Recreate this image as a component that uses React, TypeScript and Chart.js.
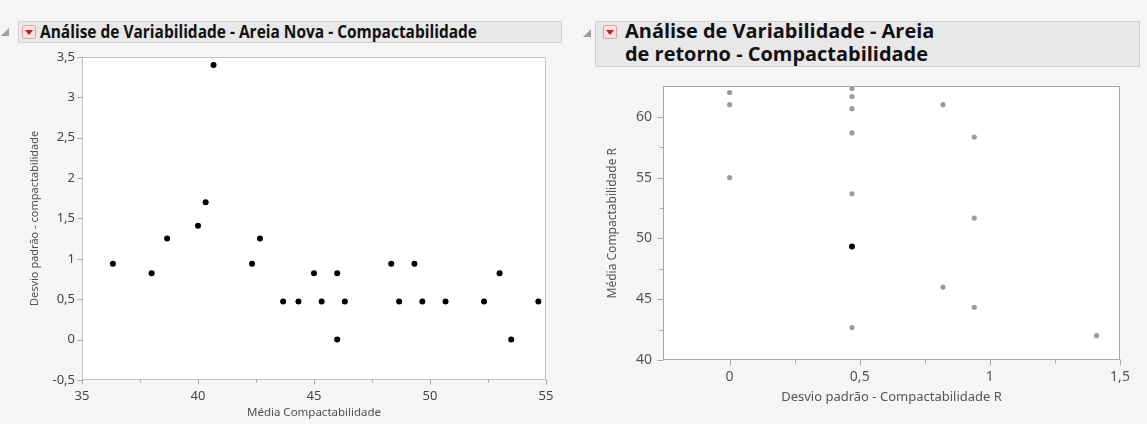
import React, { useEffect, useRef } from 'react';
import { Chart, registerables } from 'chart.js';

Chart.register(...registerables);

// ---------- Data: Areia Nova ----------
const novaMedia = [36.33, 38, 38.67, 40, 40.33, 40.67, 42.33, 42.67, 43.67, 44.33, 45, 45.33, 46, 46, 46.33, 48.33, 48.67, 49.33, 49.67, 50.67, 52.33, 53, 53.5, 54.67];
const novaDesvio = [0.94, 0.82, 1.25, 1.41, 1.7, 3.4, 0.94, 1.25, 0.47, 0.47, 0.82, 0.47, 0.82, 0, 0.47, 0.94, 0.47, 0.94, 0.47, 0.47, 0.47, 0.82, 0, 0.47];
const novaXTicks = [35, 40, 45, 50, 55];
const novaXMinor = [37.5, 42.5, 47.5, 52.5];
const novaYTicks = [-0.5, 0, 0.5, 1, 1.5, 2, 2.5, 3, 3.5];
const novaYMinor: number[] = [];

// ---------- Data: Areia de retorno ----------
const retornoDesvio = [0, 0, 0, 0.47, 0.47, 0.47, 0.47, 0.47, 0.47, 0.82, 0.82, 0.94, 0.94, 0.94, 1.41];
const retornoMedia = [62, 61, 55, 62.33, 61.67, 60.67, 58.67, 53.67, 42.67, 61, 46, 58.33, 51.67, 44.33, 42];
const retornoDestaqueDesvio = [0.47];
const retornoDestaqueMedia = [49.33];
const retornoXTicks = [0, 0.5, 1, 1.5];
const retornoXMinor = [0.25, 0.75, 1.25];
const retornoYTicks = [40, 45, 50, 55, 60];
const retornoYMinor = [42.5, 47.5, 52.5, 57.5];

const FONT = '"Noto Sans", "Open Sans", sans-serif';
const fmt = (v: number | string) => String(v).replace('.', ',');

const framePlugin = {
  id: 'frame',
  beforeDraw(chart: any) {
    const { ctx, chartArea: a } = chart;
    ctx.save();
    ctx.fillStyle = '#ffffff';
    ctx.fillRect(a.left, a.top, a.right - a.left, a.bottom - a.top);
    ctx.restore();
  },
  afterDraw(chart: any, _a: any, opts: any) {
    const { ctx, chartArea: a, scales } = chart;
    ctx.save();
    ctx.lineWidth = 1;
    ctx.strokeStyle = opts.frameColor;
    const L = Math.round(a.left) + 0.5, T = Math.round(a.top) + 0.5;
    const R = Math.round(a.right) - 0.5, B = Math.round(a.bottom) - 0.5;
    ctx.strokeRect(L, T, R - L, B - T);
    ctx.strokeStyle = opts.tickColor;
    ctx.beginPath();
    const xt = (vals: number[], len: number) => vals.forEach((v) => {
      const x = Math.round(scales.x.getPixelForValue(v)) + 0.5;
      ctx.moveTo(x, B); ctx.lineTo(x, B + len);
    });
    const yt = (vals: number[], len: number) => vals.forEach((v) => {
      const y = Math.round(scales.y.getPixelForValue(v)) + 0.5;
      ctx.moveTo(L, y); ctx.lineTo(L - len, y);
    });
    xt(opts.xMajor, opts.majorLen); xt(opts.xMinor, opts.minorLen);
    yt(opts.yMajor, opts.majorLen); yt(opts.yMinor, opts.minorLen);
    ctx.stroke();
    ctx.restore();
  },
};

function ScatterCanvas({ width, height, config }: { width: number; height: number; config: () => any }) {
  const ref = useRef<HTMLCanvasElement | null>(null);
  useEffect(() => {
    if (!ref.current) return;
    const chart = new Chart(ref.current, config());
    return () => chart.destroy();
  }, []);
  return <canvas ref={ref} width={width} height={height} style={{ width, height, display: 'block' }} />;
}

const novaConfig = () => ({
  type: 'scatter',
  data: {
    datasets: [{
      data: novaMedia.map((x, i) => ({ x, y: novaDesvio[i] })),
      backgroundColor: '#000000', borderColor: '#000000', pointRadius: 3, pointBorderWidth: 0,
    }],
  },
  plugins: [framePlugin],
  options: {
    responsive: false, animation: false,
    layout: { padding: { top: 12, right: 19, bottom: 0, left: 0 } },
    plugins: {
      legend: { display: false }, tooltip: { enabled: false },
      frame: { frameColor: '#c4c4c4', tickColor: '#a8a8a8', majorLen: 5, minorLen: 3, xMajor: novaXTicks, xMinor: novaXMinor, yMajor: novaYTicks, yMinor: novaYMinor },
    },
    scales: {
      x: {
        type: 'linear', min: 35, max: 55,
        afterBuildTicks: (s: any) => { s.ticks = novaXTicks.map((value) => ({ value })); },
        afterFit: (s: any) => { s.height = 44; },
        grid: { display: false, drawTicks: false }, border: { display: false },
        ticks: { padding: 8, color: '#444', font: { family: FONT, size: 13 }, callback: fmt, maxRotation: 0 },
        title: { display: true, text: 'Média Compactabilidade', color: '#505050', font: { family: FONT, size: 11.5 }, padding: { top: 0, bottom: 4 } },
      },
      y: {
        type: 'linear', min: -0.5, max: 3.5,
        afterBuildTicks: (s: any) => { s.ticks = novaYTicks.map((value) => ({ value })); },
        afterFit: (s: any) => { s.width = 82; },
        grid: { display: false, drawTicks: false }, border: { display: false },
        ticks: { padding: 7, color: '#444', font: { family: FONT, size: 13 }, callback: fmt },
        title: { display: true, text: 'Desvio padrão - compactabilidade', color: '#505050', font: { family: FONT, size: 11 }, padding: { top: 28, bottom: 0 } },
      },
    },
  },
});

const retornoConfig = () => ({
  type: 'scatter',
  data: {
    datasets: [
      {
        data: retornoDesvio.map((x, i) => ({ x, y: retornoMedia[i] })),
        backgroundColor: '#9c9c9c', borderColor: '#9c9c9c', pointRadius: 2.6, pointBorderWidth: 0,
      },
      {
        data: retornoDestaqueDesvio.map((x, i) => ({ x, y: retornoDestaqueMedia[i] })),
        backgroundColor: '#000000', borderColor: '#000000', pointRadius: 3, pointBorderWidth: 0,
      },
    ],
  },
  plugins: [framePlugin],
  options: {
    responsive: false, animation: false,
    layout: { padding: { top: 13, right: 27, bottom: 0, left: 0 } },
    plugins: {
      legend: { display: false }, tooltip: { enabled: false },
      frame: { frameColor: '#a8a8a8', tickColor: '#a8a8a8', majorLen: 6, minorLen: 4, xMajor: retornoXTicks, xMinor: retornoXMinor, yMajor: retornoYTicks, yMinor: retornoYMinor },
    },
    scales: {
      x: {
        type: 'linear', min: -0.256, max: 1.5,
        afterBuildTicks: (s: any) => { s.ticks = retornoXTicks.map((value) => ({ value })); },
        afterFit: (s: any) => { s.height = 64; },
        grid: { display: false, drawTicks: false }, border: { display: false },
        ticks: { padding: 9, color: '#555', font: { family: FONT, size: 14 }, callback: fmt, maxRotation: 0 },
        title: { display: true, text: 'Desvio padrão - Compactabilidade R', color: '#555', font: { family: FONT, size: 13 }, padding: { top: 0, bottom: 19 } },
      },
      y: {
        type: 'linear', min: 40, max: 62.5,
        afterBuildTicks: (s: any) => { s.ticks = retornoYTicks.map((value) => ({ value })); },
        afterFit: (s: any) => { s.width = 98; },
        grid: { display: false, drawTicks: false }, border: { display: false },
        ticks: { padding: 11, color: '#555', font: { family: FONT, size: 14 }, callback: fmt },
        title: { display: true, text: 'Média Compactabilidade R', color: '#555', font: { family: FONT, size: 12 }, padding: { top: 40, bottom: 0 } },
      },
    },
  },
});

function Disclosure({ left, top }: { left: number; top: number }) {
  return (
    <div style={{ position: 'absolute', left, top, width: 0, height: 0, borderBottom: '8px solid #a0a0a0', borderLeft: '8px solid transparent' }} />
  );
}

function RedMenu({ left, top }: { left: number; top: number }) {
  return (
    <div style={{ position: 'absolute', left, top, width: 14, height: 14, boxSizing: 'border-box', background: '#f6e2e2', border: '1px solid #d8a8a8', borderRadius: 2 }}>
      <div style={{ position: 'absolute', left: 2, top: 4, width: 0, height: 0, borderLeft: '4px solid transparent', borderRight: '4px solid transparent', borderTop: '5px solid #d01818' }} />
    </div>
  );
}

export default function App() {
  const titleStyle: React.CSSProperties = { position: 'absolute', fontFamily: '"Open Sans", "Noto Sans", sans-serif', fontWeight: 700, color: '#111', whiteSpace: 'nowrap', transformOrigin: 'left center' };
  return (
    <div style={{ position: 'absolute', left: 0, top: 0, width: 1147, height: 424, background: '#f5f5f5', overflow: 'hidden' }}>
      {/* Left header */}
      <div style={{ position: 'absolute', left: 18, top: 21, width: 544, height: 22, boxSizing: 'border-box', background: '#e8e8e8', border: '1px solid #d2d2d2' }} />
      <Disclosure left={1} top={28} />
      <RedMenu left={22} top={25} />
      <div style={{ ...titleStyle, left: 40, top: 21, lineHeight: '22px', fontSize: 17, transform: 'scaleX(0.91)' }}>Análise de Variabilidade - Areia Nova - Compactabilidade</div>
      <div style={{ position: 'absolute', left: 0, top: 42 }}>
        <ScatterCanvas width={565} height={382} config={novaConfig} />
      </div>

      {/* Right header */}
      <div style={{ position: 'absolute', left: 595, top: 21, width: 545, height: 46, boxSizing: 'border-box', background: '#e8e8e8', border: '1px solid #d2d2d2' }} />
      <Disclosure left={583} top={29} />
      <RedMenu left={603} top={25} />
      <div style={{ ...titleStyle, left: 625, top: 20, lineHeight: '23px', fontSize: 19, transformOrigin: 'left top', transform: 'scaleX(1.05)' }}>
        Análise de Variabilidade - Areia<br />de retorno - Compactabilidade
      </div>
      <div style={{ position: 'absolute', left: 565, top: 67 }}>
        <ScatterCanvas width={582} height={357} config={retornoConfig} />
      </div>
    </div>
  );
}
